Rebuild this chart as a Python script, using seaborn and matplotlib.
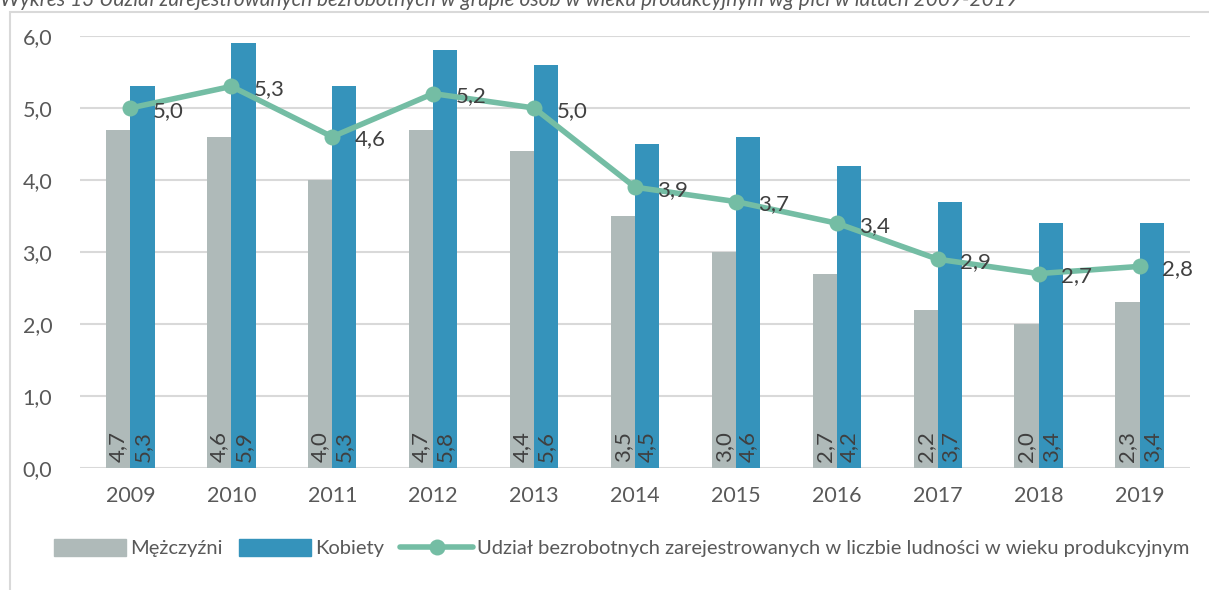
import numpy as np
import pandas as pd
import matplotlib
matplotlib.use("Agg")
import matplotlib.pyplot as plt
from matplotlib.patches import Patch, Rectangle
from matplotlib.lines import Line2D
import seaborn as sns

# ── Data ─────────────────────────────────────────────────────────────────────
years = ["2009", "2010", "2011", "2012", "2013", "2014",
         "2015", "2016", "2017", "2018", "2019"]
men   = [4.7, 4.6, 4.0, 4.7, 4.4, 3.5, 3.0, 2.7, 2.2, 2.0, 2.3]
women = [5.3, 5.9, 5.3, 5.8, 5.6, 4.5, 4.6, 4.2, 3.7, 3.4, 3.4]
total = [5.0, 5.3, 4.6, 5.2, 5.0, 3.9, 3.7, 3.4, 2.9, 2.7, 2.8]

series_names = ["Mężczyźni", "Kobiety"]
line_name = "Udział bezrobotnych zarejestrowanych w liczbie ludności w wieku produkcyjnym"
title = ("Wykres 13 Udział zarejestrowanych bezrobotnych w grupie osób "
         "w wieku produkcyjnym wg płci w latach 2009-2019")

# ── Style ────────────────────────────────────────────────────────────────────
GRAY  = "#AFBAB9"
BLUE  = "#3593BB"
GREEN = "#74BDA4"
TXT   = "#404040"
TICK  = "#595959"
GRID  = "#D9D9D9"

sns.set_theme(style="white")
plt.rcParams["font.family"] = ["Lato", "DejaVu Sans"]

def fmt(v):
    return f"{v:.1f}".replace(".", ",")

df = pd.DataFrame({
    "year": years * 2,
    "value": men + women,
    "series": [series_names[0]] * len(years) + [series_names[1]] * len(years),
})

fig = plt.figure(figsize=(12.09, 5.90), dpi=100)
ax = fig.add_axes([80 / 1209, 1 - 468 / 590, 1110 / 1209, 432 / 590])

sns.barplot(data=df, x="year", y="value", hue="series", order=years,
            hue_order=series_names, palette=[GRAY, BLUE], width=0.48,
            saturation=1, ax=ax, legend=False, linewidth=0)

x = np.arange(len(years))
sns.lineplot(x=x, y=total, ax=ax, color=GREEN, linewidth=4,
             marker="o", markersize=11.5, markeredgewidth=0, legend=False)

# bar labels (rotated, at base)
for cont in ax.containers:
    for bar in cont:
        h = bar.get_height()
        ax.text(bar.get_x() + bar.get_width() / 2, 0.08, fmt(h),
                rotation=90, ha="center", va="bottom", fontsize=16, color=TXT)

# line labels
for xi, v in zip(x, total):
    ax.annotate(fmt(v), (xi, v), xytext=(16, -2), textcoords="offset points",
                ha="left", va="center", fontsize=16, color=TXT)

ax.set_xlim(-0.5, len(years) - 0.5)
ax.set_ylim(0, 6)
ax.set_yticks(np.arange(0, 6.01, 1))
ax.set_yticklabels([fmt(v) for v in np.arange(0, 6.01, 1)])
ax.yaxis.grid(True, color=GRID, linewidth=1.5)
ax.set_axisbelow(True)
for s in ax.spines.values():
    s.set_visible(False)
ax.tick_params(axis="both", length=0, labelsize=15.5, labelcolor=TICK)
ax.tick_params(axis="x", pad=13)
ax.tick_params(axis="y", pad=20)
ax.set_xlabel("")
ax.set_ylabel("")

# legend
handles = [Patch(color=GRAY), Patch(color=BLUE),
           Line2D([], [], color=GREEN, linewidth=4, marker="o",
                  markersize=11.5, markeredgewidth=0)]
fig.legend(handles, series_names + [line_name], loc="center",
           bbox_to_anchor=(0.514, 1 - 548 / 590), ncol=3, frameon=False,
           fontsize=14.5, labelcolor=TICK, handlelength=3.6, handleheight=0.9,
           handletextpad=0.2, columnspacing=0.8)

# chart frame and cut-off title
fig.patches.append(Rectangle((10 / 1209, -0.1), 1.2, 1.1 - 12 / 590,
                             transform=fig.transFigure, fill=False,
                             edgecolor=GRID, linewidth=1.5))
fig.text(0.0, 1.0, title, ha="left", va="center", fontsize=15,
         style="italic", color=TICK)

fig.savefig("out.png", dpi=100)
